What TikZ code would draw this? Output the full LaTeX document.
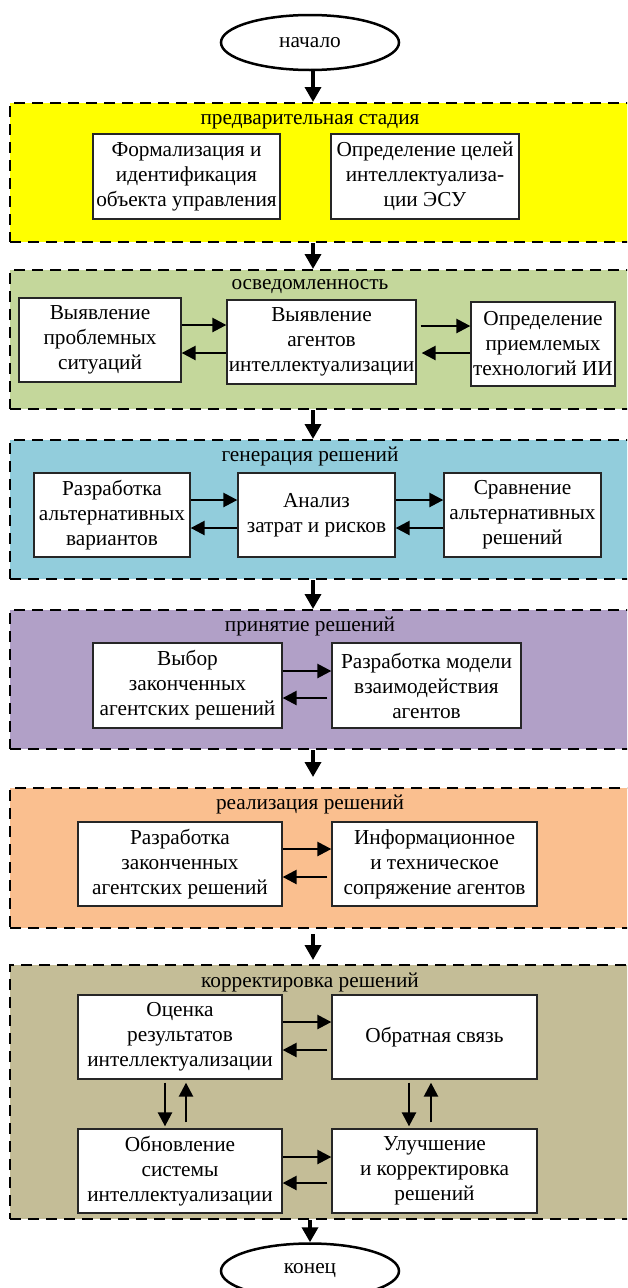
\documentclass[tikz,border=0pt]{standalone}
\usepackage{fontspec}
\setmainfont{Liberation Serif}
\newfontfamily\tnr{Liberation Serif}
\usetikzlibrary{arrows.meta,shapes.geometric}
\definecolor{cyel}{HTML}{FFFF00}
\definecolor{cgrn}{HTML}{C4D79B}
\definecolor{cblu}{HTML}{92CDDC}
\definecolor{cpur}{HTML}{B1A0C7}
\definecolor{cora}{HTML}{FABF8F}
\definecolor{ckha}{HTML}{C4BD97}
\begin{document}
\begin{tikzpicture}[x=1pt,y=-1pt,
  every node/.style={font=\tnr\fontsize{21.3}{25}\selectfont},
  band/.style={draw, line width=2pt, dash pattern=on 11pt off 7pt, anchor=north west, minimum width=640pt, inner sep=0pt},
  title/.style={inner sep=0pt},
  box/.style={draw=black!85, line width=1.3pt, fill=white, align=center, inner sep=1pt},
  term/.style={draw, ellipse, line width=2.5pt, minimum width=178pt, minimum height=55pt, inner sep=0pt},
  bigarr/.style={line width=3.5pt, -{Triangle[length=15pt,width=16pt]}},
  smarr/.style={line width=2.5pt, -{Triangle[length=14pt,width=14pt]}}
]
\useasboundingbox (0,0) rectangle (627,1288);
\clip (0,0) rectangle (627,1288);

\coordinate (ax) at (313,0);
\coordinate (bx) at (310,0);

% start
\node[term] (start) at (310,42.5) {начало};

% bands
\node[band, fill=cyel, minimum height=139pt] (s1) at (9,102) {};
\node[band, fill=cgrn, minimum height=139pt] (s2) at (9,269) {};
\node[band, fill=cblu, minimum height=139pt] (s3) at (9,439) {};
\node[band, fill=cpur, minimum height=139pt] (s4) at (9,609) {};
\node[band, fill=cora, minimum height=140pt] (s5) at (9,787) {};
\node[band, fill=ckha, minimum height=254pt] (s6) at (9,964) {};

% titles
\node[title] (t1) at (310,122) {предварительная стадия};
\node[title] (t2) at (310,287) {осведомленность};
\node[title] (t3) at (310,456) {генерация решений};
\node[title] (t4) at (310,626) {принятие решений};
\node[title] (t5) at (310,804) {реализация решений};
\node[title] (t6) at (310,982) {корректировка решений};

% stage 1
\node[box, minimum width=187pt, minimum height=85pt] (p1) at (186.5,176.5) {Формализация и\\идентификация\\объекта управления};
\node[box, minimum width=188pt, minimum height=85pt] (p2) at (425,176.5) {Определение целей\\интеллектуализа-\\ции ЭСУ};

% stage 2
\node[box, minimum width=162pt, minimum height=84pt] (a1) at (100,340) {Выявление\\проблемных\\ситуаций};
\node[box, minimum width=189pt, minimum height=84pt] (a2) at (321.5,342) {Выявление\\агентов\\интеллектуализации};
\node[box, minimum width=144pt, minimum height=84pt] (a3) at (543,344) {Определение\\приемлемых\\технологий ИИ};

% stage 3
\node[box, minimum width=156pt, minimum height=84pt] (g1) at (112,515) {Разработка\\альтернативных\\вариантов};
\node[box, minimum width=157pt, minimum height=84pt] (g2) at (316.5,515) {Анализ\\затрат и рисков};
\node[box, minimum width=157pt, minimum height=84pt] (g3) at (522.5,515) {Сравнение\\альтернативных\\решений};

% stage 4
\node[box, minimum width=189pt, minimum height=85pt] (d1) at (187.5,685.5) {Выбор\\законченных\\агентских решений};
\node[box, minimum width=189pt, minimum height=85pt] (d2) at (426.5,685.5) {Разработка модели\\взаимодействия\\агентов};

% stage 5
\node[box, minimum width=204pt, minimum height=84pt] (r1) at (180,864) {Разработка\\законченных\\агентских решений};
\node[box, minimum width=205pt, minimum height=84pt] (r2) at (434.5,864) {Информационное\\и техническое\\сопряжение агентов};

% stage 6
\node[box, minimum width=204pt, minimum height=84pt] (k1) at (180,1037) {Оценка\\результатов\\интеллектуализации};
\node[box, minimum width=205pt, minimum height=84pt] (k2) at (434.5,1037) {Обратная связь};
\node[box, minimum width=204pt, minimum height=84pt] (k3) at (180,1171) {Обновление\\системы\\интеллектуализации};
\node[box, minimum width=205pt, minimum height=84pt] (k4) at (434.5,1171) {Улучшение\\и корректировка\\решений};

% end
\node[term] (stop) at (310,1271) {конец};

% main flow arrows
\draw[bigarr] (start.south -| ax) -- (s1.north -| ax);
\draw[bigarr] (s1.south -| ax) -- (s2.north -| ax);
\draw[bigarr] (s2.south -| ax) -- (s3.north -| ax);
\draw[bigarr] (s3.south -| ax) -- (s4.north -| ax);
\draw[bigarr, shorten >=10pt] (s4.south -| ax) -- (s5.north -| ax);
\draw[bigarr, shorten <=5pt, shorten >=4pt] (s5.south -| ax) -- (s6.north -| ax);
\draw[bigarr] (s6.south -| bx) -- (stop.north);

% horizontal pairs
\draw[smarr] ([yshift=15pt]a1.east) -- ([yshift=15pt]a1.east -| a2.west);
\draw[smarr] ([yshift=-13pt]a1.east -| a2.west) -- ([yshift=-13pt]a1.east);
\draw[smarr, shorten <=4pt] ([yshift=16pt]a2.east) -- ([yshift=16pt]a2.east -| a3.west);
\draw[smarr, shorten >=5pt] ([yshift=-11pt]a2.east -| a3.west) -- ([yshift=-11pt]a2.east);

\draw[smarr] ([yshift=15pt]g1.east) -- ([yshift=15pt]g1.east -| g2.west);
\draw[smarr] ([yshift=-13pt]g1.east -| g2.west) -- ([yshift=-13pt]g1.east);
\draw[smarr] ([yshift=15pt]g2.east) -- ([yshift=15pt]g2.east -| g3.west);
\draw[smarr] ([yshift=-13pt]g2.east -| g3.west) -- ([yshift=-13pt]g2.east);

\draw[smarr] ([yshift=14.5pt]d1.east) -- ([yshift=14.5pt]d1.east -| d2.west);
\draw[smarr, shorten <=4pt] ([yshift=-12.5pt]d1.east -| d2.west) -- ([yshift=-12.5pt]d1.east);

\draw[smarr] ([yshift=15pt]r1.east) -- ([yshift=15pt]r1.east -| r2.west);
\draw[smarr, shorten <=4pt] ([yshift=-13pt]r1.east -| r2.west) -- ([yshift=-13pt]r1.east);

\draw[smarr] ([yshift=15pt]k1.east) -- ([yshift=15pt]k1.east -| k2.west);
\draw[smarr, shorten <=4pt] ([yshift=-13pt]k1.east -| k2.west) -- ([yshift=-13pt]k1.east);
\draw[smarr] ([yshift=14pt]k3.east) -- ([yshift=14pt]k3.east -| k4.west);
\draw[smarr, shorten <=4pt] ([yshift=-12pt]k3.east -| k4.west) -- ([yshift=-12pt]k3.east);

% vertical pairs
\draw[smarr, shorten <=3pt, shorten >=2pt] ([xshift=-15pt]k1.south) -- ([xshift=-15pt]k1.south |- k3.north);
\draw[smarr, shorten <=6pt, shorten >=3pt] ([xshift=6pt]k1.south |- k3.north) -- ([xshift=6pt]k1.south);
\draw[smarr, shorten <=3pt, shorten >=2pt] ([xshift=-25.5pt]k2.south) -- ([xshift=-25.5pt]k2.south |- k4.north);
\draw[smarr, shorten <=6pt, shorten >=3pt] ([xshift=-3.5pt]k2.south |- k4.north) -- ([xshift=-3.5pt]k2.south);
\end{tikzpicture}
\end{document}
